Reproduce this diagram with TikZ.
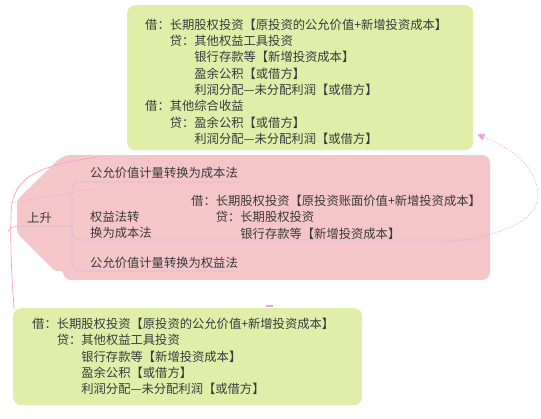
\documentclass[tikz,border=0pt]{standalone}
\usepackage{fontspec}
\setmainfont{Noto Sans CJK SC}
\usetikzlibrary{arrows.meta}
\definecolor{lvse}{RGB}{224,238,170}
\definecolor{fenhong}{RGB}{244,198,200}
\definecolor{zixian}{RGB}{216,184,218}
\definecolor{hongxian}{RGB}{246,160,204}
\definecolor{xuxian}{RGB}{236,166,220}
\definecolor{wenzi}{RGB}{58,58,58}
\tikzset{
  kuang/.style={fill=lvse, rounded corners=8pt, inner sep=0pt, anchor=north west},
  wen/.style={inner sep=0pt, text=wenzi, align=left, font=\fontsize{12.3}{16.3}\selectfont},
  zhi/.style={draw=zixian, line width=0.6pt},
}

\begin{document}
\begin{tikzpicture}[x=1pt,y=-1pt]
\useasboundingbox (0,0) rectangle (541,418);
\node[kuang, minimum width=346pt, minimum height=145pt] (topbox) at (127,5) {};       %上面的绿色框
\node[kuang, minimum width=349pt, minimum height=97pt] (botbox) at (13,308) {};      %下面的绿色框
\fill[fenhong] (100,155) [rounded corners=8pt] -- (490,155) -- (490,280) -- (63,280) [rounded corners=2pt] -- (63,271) -- (55,271) [rounded corners=4pt] -- (17,233) -- (17,200) [rounded corners=8pt] -- (63,155) -- cycle;
%粉色的区域,左边是切角
\node[wen, anchor=north west] (shang) at (145,18.6) {借：长期股权投资【原投资的公允价值+新增投资成本】\\
  \hspace*{2em}贷：其他权益工具投资\\
  \hspace*{4em}银行存款等【新增投资成本】\\
  \hspace*{4em}盈余公积【或借方】\\
  \hspace*{4em}利润分配—未分配利润【或借方】\\
  借：其他综合收益\\
  \hspace*{2em}贷：盈余公积【或借方】\\
  \hspace*{4em}利润分配—未分配利润【或借方】};
\node[wen, anchor=north west] (xia) at (32,318) {借：长期股权投资【原投资的公允价值+新增投资成本】\\
  \hspace*{2em}贷：其他权益工具投资\\
  \hspace*{4em}银行存款等【新增投资成本】\\
  \hspace*{4em}盈余公积【或借方】\\
  \hspace*{4em}利润分配—未分配利润【或借方】};
\node[wen, anchor=west] (up) at (27,218) {上升};
\node[wen, anchor=west] (n1) at (90,173) {公允价值计量转换为成本法};
\node[wen, anchor=north west] (n2) at (90,210.8) {权益法转\\换为成本法};
\node[wen, anchor=north west] (fenlu) at (191,195) {借：长期股权投资【原投资账面价值+新增投资成本】\\
  \hspace*{2em}贷：长期股权投资\\
  \hspace*{4em}银行存款等【新增投资成本】};
\node[wen, anchor=west] (n3) at (90,263) {公允价值计量转换为权益法};
\draw[zhi] (8,232) .. controls (11,227) .. (20,226) -- (72,226);      %上升的分支线
\draw[zhi, rounded corners=8pt] (235,182) -- (72,182) -- (72,271) -- (235,271);
\draw[zhi, rounded corners=8pt] (72,226) -- (72,240) -- (482,240);
\draw[hongxian, line width=0.7pt] (97,157) .. controls (30,167) and (12,180) .. (11,215) .. controls (10,260) and (13,290) .. ([shift={(1pt,-1pt)}]botbox.north west);
%粉色的连线
\draw[xuxian, line width=0.7pt, dash pattern=on 1pt off 1.4pt] (10,203) -- (100,188);
\draw[xuxian, line width=0.7pt, dash pattern=on 1pt off 1.4pt, -{Triangle[length=7pt,width=7pt]}] (440,243) .. controls (500,236) and (545,222) .. (537,187) .. controls (531,160) and (505,146) .. ([shift={(4pt,16pt)}]topbox.south east);
%虚线箭头指向上面的框
\fill[xuxian] (266,305) rectangle (273,307);
\end{tikzpicture}
\end{document}
